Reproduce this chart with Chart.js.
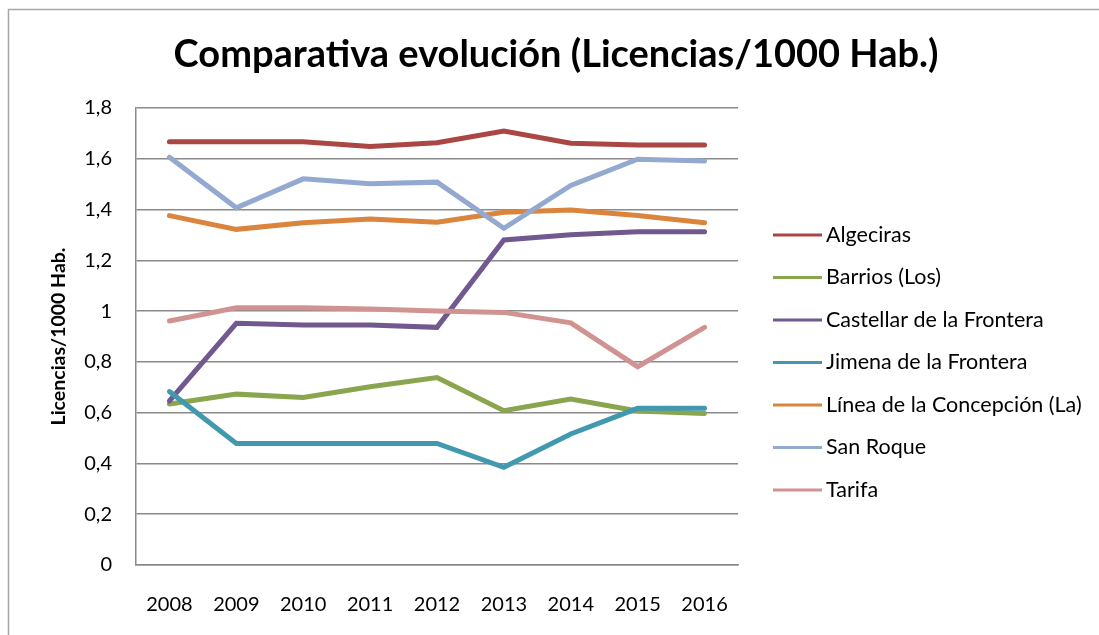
<!DOCTYPE html>
<html>
<head>
<meta charset="utf-8">
<script src="https://cdn.jsdelivr.net/npm/chart.js@4/dist/chart.umd.min.js"></script>
<style>
html,body{margin:0;padding:0;background:#fff;}
#c{display:block;}
</style>
</head>
<body>
<canvas id="c" width="1099" height="635"></canvas>
<script>
const years=['2008','2009','2010','2011','2012','2013','2014','2015','2016'];
const municipios=['Algeciras','Barrios (Los)','Castellar de la Frontera','Jimena de la Frontera','Línea de la Concepción (La)','San Roque','Tarifa'];
const algeciras=[1.667,1.667,1.667,1.648,1.663,1.709,1.661,1.654,1.654];
const barrios=[0.634,0.673,0.660,0.702,0.738,0.608,0.654,0.607,0.597];
const castellar=[0.646,0.952,0.945,0.945,0.936,1.280,1.301,1.313,1.313];
const jimena=[0.683,0.479,0.479,0.479,0.479,0.385,0.516,0.617,0.617];
const linea=[1.376,1.322,1.348,1.363,1.350,1.389,1.398,1.377,1.348];
const sanRoque=[1.606,1.407,1.521,1.502,1.508,1.326,1.495,1.598,1.591];
const tarifa=[0.961,1.013,1.013,1.008,1.000,0.995,0.954,0.781,0.936];
const colores=['#AA4643','#89A54E','#71588F','#4198AF','#DB843D','#93A9CF','#D19392'];
const series=[algeciras,barrios,castellar,jimena,linea,sanRoque,tarifa];

const FONT='Lato, "Open Sans", sans-serif';

// titulo, marco exterior y leyenda a la derecha
const decoracion={
id:'decoracion',
afterDraw(chart){
const ctx=chart.ctx;
ctx.save();
ctx.strokeStyle='#a6a6a6';
ctx.lineWidth=1.5;
ctx.beginPath();
ctx.moveTo(8.5,635);
ctx.lineTo(8.5,9.5);
ctx.lineTo(1099,9.5);
ctx.stroke();

ctx.fillStyle='#000';
ctx.font='bold 38px '+FONT;
ctx.textAlign='center';
ctx.textBaseline='middle';
ctx.fillText('Comparativa evolución (Licencias/1000 Hab.)',556,55);

ctx.font='21.5px '+FONT;
ctx.textAlign='left';
chart.data.datasets.forEach((ds,i)=>{
const y=235+i*42.5;
ctx.strokeStyle=ds.borderColor;
ctx.lineWidth=3;
ctx.beginPath();
ctx.moveTo(773,y);
ctx.lineTo(822,y);
ctx.stroke();
ctx.fillStyle='#000';
ctx.fillText(ds.label,826,y);
});
ctx.restore();
}
};

new Chart(document.getElementById('c'),{
type:'line',
data:{
labels:years,
datasets:municipios.map((m,i)=>({
label:m,
data:series[i],
borderColor:colores[i],
backgroundColor:colores[i],
borderWidth:5,
borderCapStyle:'round',
pointRadius:0,
tension:0,
order:municipios.length-i
}))
},
options:{
responsive:false,
devicePixelRatio:1,
animation:false,
layout:{padding:{left:43,top:108,right:361,bottom:0}},
plugins:{legend:{display:false},tooltip:{enabled:false},title:{display:false}},
scales:{
x:{
offset:true,
grid:{display:false,drawTicks:false},
border:{display:true,color:'#8a8a8a',width:1.5},
ticks:{color:'#000',font:{family:FONT,size:20},padding:28,maxRotation:0},
afterFit(s){s.height=70;}
},
y:{
min:0,max:1.8,
grid:{color:'#8a8a8a',lineWidth:1.5,drawTicks:false},
border:{display:true,color:'#8a8a8a',width:1.5},
ticks:{
stepSize:0.2,
color:'#000',
font:{family:FONT,size:20},
padding:24,
callback:v=>String(Number(v.toFixed(1))).replace('.',',')
},
title:{display:true,text:'Licencias/1000 Hab.',color:'#000',font:{family:FONT,size:19.5,weight:'bold'}},
afterFit(s){s.width=93;}
}
}
},
plugins:[decoracion]
});
</script>
</body>
</html>
